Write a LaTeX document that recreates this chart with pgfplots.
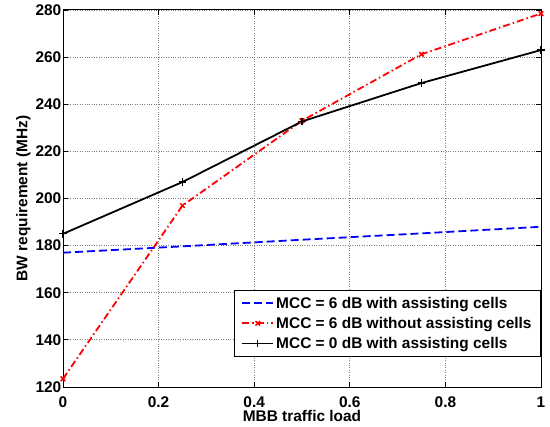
\documentclass[border=0pt]{standalone}
\usepackage{pgfplots}
\pgfplotsset{compat=1.18}
\usepackage{fontspec}
\setmainfont{Liberation Sans}[BoldFont={Liberation Sans Bold}]
\begin{document}
\begin{tikzpicture}
\begin{axis}[
    name=ax,
    scale only axis,
    width=478bp, height=377bp,
    xmin=0, xmax=1, ymin=120, ymax=280,
    xtick={0,0.2,0.4,0.6,0.8,1},
    ytick={120,140,160,180,200,220,240,260,280},
    xticklabels={\textbf{0},\textbf{0.2},\textbf{0.4},\textbf{0.6},\textbf{0.8},\textbf{1}},
    yticklabels={\textbf{120},\textbf{140},\textbf{160},\textbf{180},\textbf{200},\textbf{220},\textbf{240},\textbf{260},\textbf{280}},
    tick align=inside,
    tick pos=both,
    major tick length=5bp,
    xmajorgrids=true, ymajorgrids=true,
    grid style={dotted, gray, line width=0.8pt},
    axis line style={line width=1pt},
    every tick/.style={black, line width=0.8pt},
    ticklabel style={font=\fontsize{15.5}{17}\selectfont},
    yticklabel style={inner sep=1.5bp},
    xticklabel style={inner sep=0bp, anchor=north, yshift=-10bp},
    xlabel={\textbf{MBB traffic load}},
    ylabel={\textbf{BW requirement (MHz)}},
    label style={font=\fontsize{15.5}{17}\selectfont},
    xlabel style={at={(rel axis cs:0.5,0)}, anchor=north, inner sep=0bp, yshift=-23.5bp},
    legend style={at={(rel axis cs:1,0.08)}, anchor=south east,
        font=\fontsize{15.5}{17}\selectfont\bfseries, draw=black, line width=1pt,
        cells={anchor=west}, row sep=3.5bp, inner xsep=7bp, inner ysep=4.5bp},
    legend cell align=left,
    legend image code/.code={%
        \draw[mark repeat=2, mark phase=2]
        plot coordinates {(0bp,0bp) (15.5bp,0bp) (31bp,0bp)};},
]
\addplot[blue, line width=1.8pt, dash pattern=on 8bp off 4bp]
    coordinates {(0,177) (0.25,179.7) (0.5,182.5) (0.75,185.2) (1,188)};
\addlegendentry{MCC = 6 dB with assisting cells}
\addplot[red, line width=1.8pt, dash pattern=on 7bp off 3bp on 1.5bp off 3bp,
    mark=x, mark size=3.2bp, mark options={solid, line width=1.5pt}]
    coordinates {(0,123.5) (0.25,197) (0.5,233) (0.75,261.2) (1,278.5)};
\addlegendentry{MCC = 6 dB without assisting cells}
\addplot[black, line width=1.8pt, mark=+, mark size=3.8bp,
    mark options={solid, line width=1.3pt}]
    coordinates {(0,185) (0.25,207) (0.5,232.7) (0.75,249) (1,263)};
\addlegendentry{MCC = 0 dB with assisting cells}
\end{axis}
\path (ax.south west) ++(-63bp,-40bp) (ax.north east) ++(9bp,10bp);
\end{tikzpicture}
\end{document}
